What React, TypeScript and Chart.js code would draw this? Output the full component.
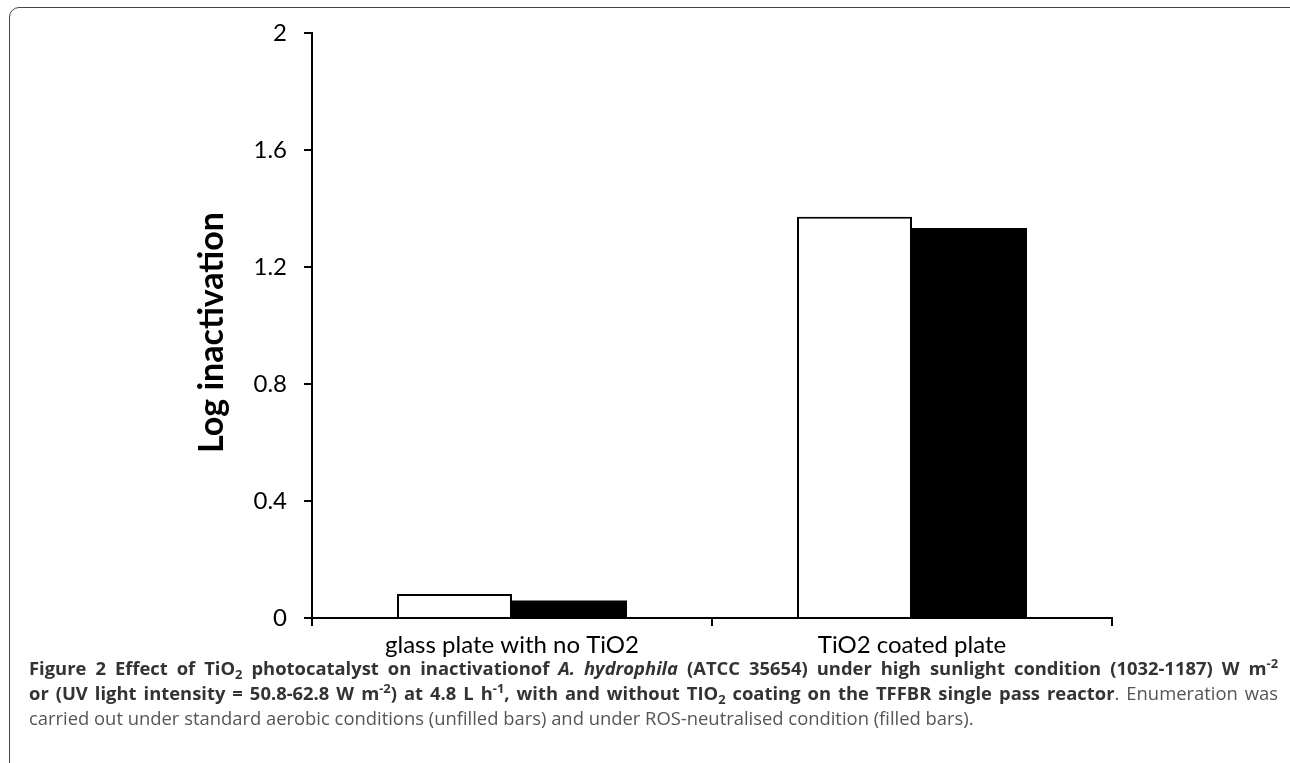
import React, { useEffect, useRef } from "react";
import { Chart, registerables } from "chart.js";

Chart.register(...registerables);

const categories = ["glass plate with no TiO2", "TiO2 coated plate"];
const unfilledValues = [0.082, 1.372];
const filledValues = [0.06, 1.333];
const yMin = 0;
const yMax = 2;
const yStep = 0.4;
const yAxisTitle = "Log inactivation";

const LABEL_FONT = "Lato, 'Open Sans', sans-serif";
const CAPTION_FONT = "'Open Sans', 'Noto Sans', sans-serif";

const yTitlePlugin = {
  id: "yTitlePlugin",
  afterDraw(chart: any) {
    const { ctx, chartArea } = chart;
    ctx.save();
    ctx.translate(212, (chartArea.top + chartArea.bottom) / 2 + 7);
    ctx.rotate(-Math.PI / 2);
    ctx.font = `bold 34px ${LABEL_FONT}`;
    ctx.fillStyle = "#000000";
    ctx.textAlign = "center";
    ctx.textBaseline = "middle";
    ctx.fillText(yAxisTitle, 0, 0);
    ctx.restore();
  },
};

export default function App() {
  const canvasRef = useRef<HTMLCanvasElement | null>(null);

  useEffect(() => {
    document.body.style.margin = "0";
    const canvas = canvasRef.current;
    if (!canvas) return;
    const chart = new Chart(canvas, {
      type: "bar",
      data: {
        labels: categories,
        datasets: [
          {
            label: "Unfilled (standard aerobic)",
            data: unfilledValues,
            backgroundColor: "#ffffff",
            borderColor: "#000000",
            borderWidth: 2,
            barPercentage: 1,
            categoryPercentage: 0.575,
          },
          {
            label: "Filled (ROS-neutralised)",
            data: filledValues,
            backgroundColor: "#000000",
            borderColor: "#000000",
            borderWidth: 0,
            barPercentage: 1,
            categoryPercentage: 0.575,
          },
        ],
      },
      options: {
        animation: false,
        responsive: true,
        maintainAspectRatio: false,
        layout: { padding: { top: 33, right: 178, left: 0, bottom: 0 } },
        plugins: {
          legend: { display: false },
          tooltip: { enabled: false },
          title: { display: false },
        },
        scales: {
          x: {
            offset: true,
            grid: {
              offset: true,
              drawOnChartArea: false,
              drawTicks: true,
              tickLength: 8,
              color: "#000000",
              lineWidth: 2,
            },
            border: { display: true, color: "#000000", width: 2 },
            ticks: {
              color: "#000000",
              font: { family: LABEL_FONT, size: 24 },
              padding: 5,
            },
            afterFit: (scale: any) => {
              scale.height = 42;
            },
          },
          y: {
            min: yMin,
            max: yMax,
            grid: {
              drawOnChartArea: false,
              drawTicks: true,
              tickLength: 8,
              color: "#000000",
              lineWidth: 2,
            },
            border: { display: true, color: "#000000", width: 2 },
            ticks: {
              stepSize: yStep,
              color: "#000000",
              font: { family: LABEL_FONT, size: 24 },
              padding: 17,
              callback: (v: any) => String(Number(Number(v).toFixed(1))),
            },
            title: { display: false, text: yAxisTitle },
            afterFit: (scale: any) => {
              scale.width = 312;
            },
          },
        },
      },
      plugins: [yTitlePlugin],
    });
    return () => chart.destroy();
  }, []);

  const bold: React.CSSProperties = { fontWeight: 700, color: "#333333" };
  const normal: React.CSSProperties = { fontWeight: 400, color: "#555555" };
  const lineBase: React.CSSProperties = {
    position: "absolute",
    left: 29,
    width: 1249,
    fontFamily: CAPTION_FONT,
    fontSize: 18.4,
    lineHeight: "25px",
    whiteSpace: "normal",
  };
  const justified: React.CSSProperties = {
    ...lineBase,
    textAlign: "justify",
    textAlignLast: "justify" as any,
  };
  const sub: React.CSSProperties = { fontSize: "0.7em", verticalAlign: "-0.3em", lineHeight: 0 };
  const sup: React.CSSProperties = { fontSize: "0.7em", verticalAlign: "0.55em", lineHeight: 0 };

  return (
    <div style={{ position: "fixed", left: 0, top: 0, width: 1290, height: 763, overflow: "hidden", background: "#ffffff" }}>
      <div
        style={{
          position: "absolute",
          left: 9,
          top: 7,
          width: 1300,
          height: 770,
          border: "1.5px solid #444",
          borderRadius: 10,
          boxSizing: "border-box",
        }}
      />
      <div style={{ position: "absolute", left: 0, top: 0, width: 1290, height: 660 }}>
        <canvas ref={canvasRef} />
      </div>
      <div style={{ ...justified, top: 655 }}>
        <span style={bold}>
          Figure 2 Effect of TiO<span style={sub}>2</span> photocatalyst on inactivationof <i>A. hydrophila</i> (ATCC 35654) under high sunlight condition (1032-1187) W m<span style={sup}>-2</span>
        </span>
      </div>
      <div style={{ ...justified, top: 680 }}>
        <span style={bold}>
          or (UV light intensity = 50.8-62.8 W m<span style={sup}>-2</span>) at 4.8 L h<span style={sup}>-1</span>, with and without TIO<span style={sub}>2</span> coating on the TFFBR single pass reactor
        </span>
        <span style={normal}>. Enumeration was</span>
      </div>
      <div style={{ ...lineBase, top: 705 }}>
        <span style={normal}>
          carried out under standard aerobic conditions (unfilled bars) and under ROS-neutralised condition (filled bars).
        </span>
      </div>
    </div>
  );
}
